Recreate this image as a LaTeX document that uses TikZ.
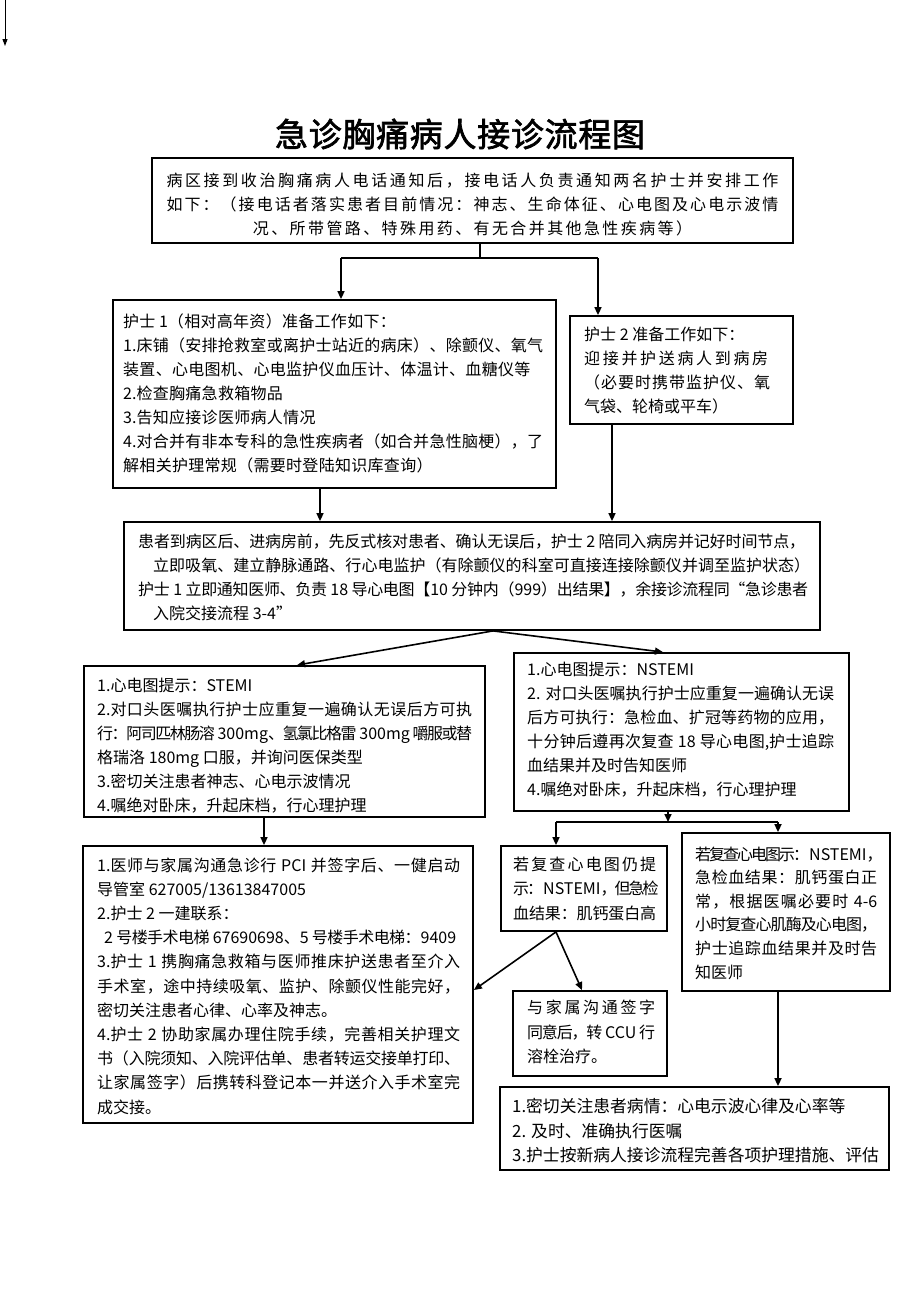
\documentclass[tikz,border=0pt]{standalone}
\usepackage{fontspec}
\setmainfont{Noto Sans CJK SC}
\newfontfamily\titlefont[FakeBold=2]{Noto Sans CJK SC}
\usetikzlibrary{arrows.meta}
\newdimen\cjkgap
\cjkgap=0pt
\newcount\cjkidx
\XeTeXinterchartokenstate=1
\newXeTeXintercharclass\cjkcls
\def\cjkrange#1#2{\cjkidx=#1\relax\loop\XeTeXcharclass\cjkidx=\cjkcls\relax\advance\cjkidx by 1\relax\ifnum\cjkidx<#2\relax\repeat}
\cjkrange{"3000}{"3040}
\cjkrange{"4E00}{"A000}
\cjkrange{"FF00}{"FFF0}
\cjkrange{"2018}{"201E}
\XeTeXinterchartoks\cjkcls\cjkcls={\hskip\cjkgap plus 1pt minus 2pt\relax}
\newcommand\jl[2]{\makebox[#1][s]{#2}}
\begin{document}
\begin{tikzpicture}[x=1pt,y=-1pt,
  box/.style={draw=black,line width=1.8pt,rectangle,inner sep=0pt},
  txt/.style={anchor=west,align=left,inner sep=0pt},
  conn/.style={line width=1.6pt},
  arr/.style={line width=1.6pt,-{Triangle[length=8pt,width=7pt]}}]
\fill[white] (0,0) rectangle (920,1302);
\useasboundingbox (0,0) rectangle (920,1302);

% top-left arrow
\coordinate (tlA) at (5,0);
\coordinate (tlB) at (5,46);
\draw[line width=1pt,-{Triangle[length=7pt,width=5pt]}] (tlA) -- (tlB);

% title
\node[inner sep=0pt,font={\titlefont\fontsize{33}{36}\selectfont\cjkgap=0.7pt}] (title) at (460,134) {急诊胸痛病人接诊流程图};

% boxes
\node[box,minimum width=641pt,minimum height=85pt] (b1) at (472.5,200.5) {};
\node[box,minimum width=443pt,minimum height=188pt] (b2) at (334.5,394) {};
\node[box,minimum width=223pt,minimum height=108pt] (b3) at (681.5,370) {};
\node[box,minimum width=696pt,minimum height=108pt] (b4) at (472,576) {};
\node[box,minimum width=401pt,minimum height=151pt] (b5) at (284.5,741.5) {};
\node[box,minimum width=335pt,minimum height=158pt] (b6) at (681.5,732) {};
\node[box,minimum width=390pt,minimum height=277pt] (b7) at (278,984.5) {};
\node[box,minimum width=166pt,minimum height=85pt] (b8) at (584,888.5) {};
\node[box,minimum width=208pt,minimum height=158pt] (b9) at (786,912) {};
\node[box,minimum width=154pt,minimum height=85pt] (b10) at (590,1033.5) {};
\node[box,minimum width=389pt,minimum height=83pt] (b11) at (694.5,1128.5) {};

% texts
\node[align=center,inner sep=0pt,font={\fontsize{16}{24}\selectfont\cjkgap=2.4pt}] (t1) at (472.5,204) {%
\jl{612pt}{病区接到收治胸痛病人电话通知后，接电话人负责通知两名护士并安排工作}\\
\jl{612pt}{如下：（接电话者落实患者目前情况：神志、生命体征、心电图及心电示波情}\\
况、所带管路、特殊用药、有无合并其他急性疾病等）};

\node[txt,font={\fontsize{16}{24}\selectfont\cjkgap=0.3pt}] (t2) at (123,393) {%
护士 1（相对高年资）准备工作如下：\\
\jl{420pt}{1.床铺（安排抢救室或离护士站近的病床）、除颤仪、氧气}\\
装置、心电图机、心电监护仪血压计、体温计、血糖仪等\\
2.检查胸痛急救箱物品\\
3.告知应接诊医师病人情况\\
\jl{420pt}{4.对合并有非本专科的急性疾病者（如合并急性脑梗），了}\\
解相关护理常规（需要时登陆知识库查询）};

\node[txt,font={\fontsize{16}{24}\selectfont}] (t3) at (584,371) {%
护士 2 准备工作如下：\\
\jl{184pt}{迎接并护送病人到病房}\\
\jl{186pt}{（必要时携带监护仪、氧}\\
气袋、轮椅或平车）};

\node[txt,font={\fontsize{16}{24}\selectfont}] (t4) at (138,577) {%
\jl{667pt}{患者到病区后、进病房前，先反式核对患者、确认无误后，护士 2 陪同入病房并记好时间节点，}\\
\hspace*{15pt}\jl{657pt}{立即吸氧、建立静脉通路、行心电监护（有除颤仪的科室可直接连接除颤仪并调至监护状态）}\\
\jl{670pt}{护士 1 立即通知医师、负责 18 导心电图【10 分钟内（999）出结果】，余接诊流程同“急诊患者}\\
\hspace*{15pt}入院交接流程 3-4”};

\node[txt,font={\fontsize{16}{24}\selectfont}] (t5) at (97,746) {%
1.心电图提示：STEMI\\
\jl{375pt}{2.对口头医嘱执行护士应重复一遍确认无误后方可执}\\
\jl{375pt}{行：阿司匹林肠溶 300mg、氢氯比格雷 300mg 嚼服或替}\\
格瑞洛 180mg 口服，并询问医保类型\\
3.密切关注患者神志、心电示波情况\\
4.嘱绝对卧床，升起床档，行心理护理};

\node[txt,font={\fontsize{16}{24}\selectfont}] (t6) at (527,730) {%
1.心电图提示：NSTEMI\\
\jl{307pt}{2. 对口头医嘱执行护士应重复一遍确认无误}\\
\jl{307pt}{后方可执行：急检血、扩冠等药物的应用，}\\
\jl{307pt}{十分钟后遵再次复查 18 导心电图,护士追踪}\\
血结果并及时告知医师\\
4.嘱绝对卧床，升起床档，行心理护理};

\node[txt,font={\fontsize{16}{24.2}\selectfont}] (t7) at (97,986) {%
\jl{363pt}{1.医师与家属沟通急诊行 PCI 并签字后、一健启动}\\
导管室 627005/13613847005\\
2.护士 2 一建联系：\\
\hspace*{7pt}\jl{352pt}{2 号楼手术电梯 67690698、5 号楼手术电梯：9409}\\
\jl{363pt}{3.护士 1 携胸痛急救箱与医师推床护送患者至介入}\\
\jl{363pt}{手术室，途中持续吸氧、监护、除颤仪性能完好，}\\
密切关注患者心律、心率及神志。\\
\jl{363pt}{4.护士 2 协助家属办理住院手续，完善相关护理文}\\
\jl{363pt}{书（入院须知、入院评估单、患者转运交接单打印、}\\
\jl{363pt}{让家属签字）后携转科登记本一并送介入手术室完}\\
成交接。};

\node[txt,font={\fontsize{16}{24.5}\selectfont}] (t8) at (513,889) {%
\jl{143pt}{若复查心电图仍提}\\
\jl{143pt}{示：NSTEMI，但急检}\\
\jl{143pt}{血结果：肌钙蛋白高}};

\node[txt,font={\fontsize{16}{23.6}\selectfont}] (t9) at (695,913) {%
\jl{182pt}{若复查心电图示：NSTEMI，}\\
\jl{182pt}{急检血结果：肌钙蛋白正}\\
\jl{182pt}{常，根据医嘱必要时 4-6}\\
\jl{182pt}{小时复查心肌酶及心电图，}\\
\jl{182pt}{护士追踪血结果并及时告}\\
知医师};

\node[txt,font={\fontsize{16}{24.5}\selectfont}] (t10) at (527,1032) {%
\jl{128pt}{与家属沟通签字}\\
\jl{128pt}{同意后，转 CCU 行}\\
溶栓治疗。};

\node[txt,font={\fontsize{16.8}{24.5}\selectfont}] (t11) at (512,1131) {%
1.密切关注患者病情：心电示波心律及心率等\\
2. 及时、准确执行医嘱\\
3.护士按新病人接诊流程完善各项护理措施、评估};

% connectors
\coordinate (s1) at (480,258);
\coordinate (s1L) at (341,258);
\coordinate (s1R) at (598,258);
\draw[conn] (b1.south -| s1) -- (s1);
\draw[conn] (s1L) -- (s1R);
\draw[arr] (s1L) -- (s1L |- b2.north);
\draw[arr] (s1R) -- (s1R |- b3.north);

\coordinate (k2) at (320,505);
\coordinate (k3) at (612,470);
\draw[arr] (k2 |- b2.south) -- (k2 |- b4.north);
\draw[arr] (k3 |- b3.south) -- (k3 |- b4.north);

\coordinate (k4) at (493,640);
\coordinate (k5) at (297,650);
\coordinate (k6) at (663,650);
\draw[arr] (k4 |- b4.south) -- (k5 |- b5.north);
\draw[arr] (k4 |- b4.south) -- (k6 |- b6.north);

\coordinate (k7) at (264,830);
\draw[arr] (k7 |- b5.south) -- (k7 |- b7.north);

\coordinate (j2) at (668,822);
\coordinate (j2L) at (556,822);
\coordinate (j2R) at (778,822);
\draw[arr] (j2 |- b6.south) -- (j2);
\draw[conn] (j2L) -- (j2R);
\draw[arr] (j2L) -- (j2L |- b8.north);
\draw[arr] (j2R) -- (j2R |- b9.north);

\coordinate (k8) at (556,940);
\coordinate (k9) at (400,990);
\coordinate (k10) at (582,960);
\draw[arr] (k8 |- b8.south) -- (b7.east |- k9);
\draw[arr] (k8 |- b8.south) -- (k10 |- b10.north);
\draw[arr] (j2R |- b9.south) -- (j2R |- b11.north);
\end{tikzpicture}
\end{document}
